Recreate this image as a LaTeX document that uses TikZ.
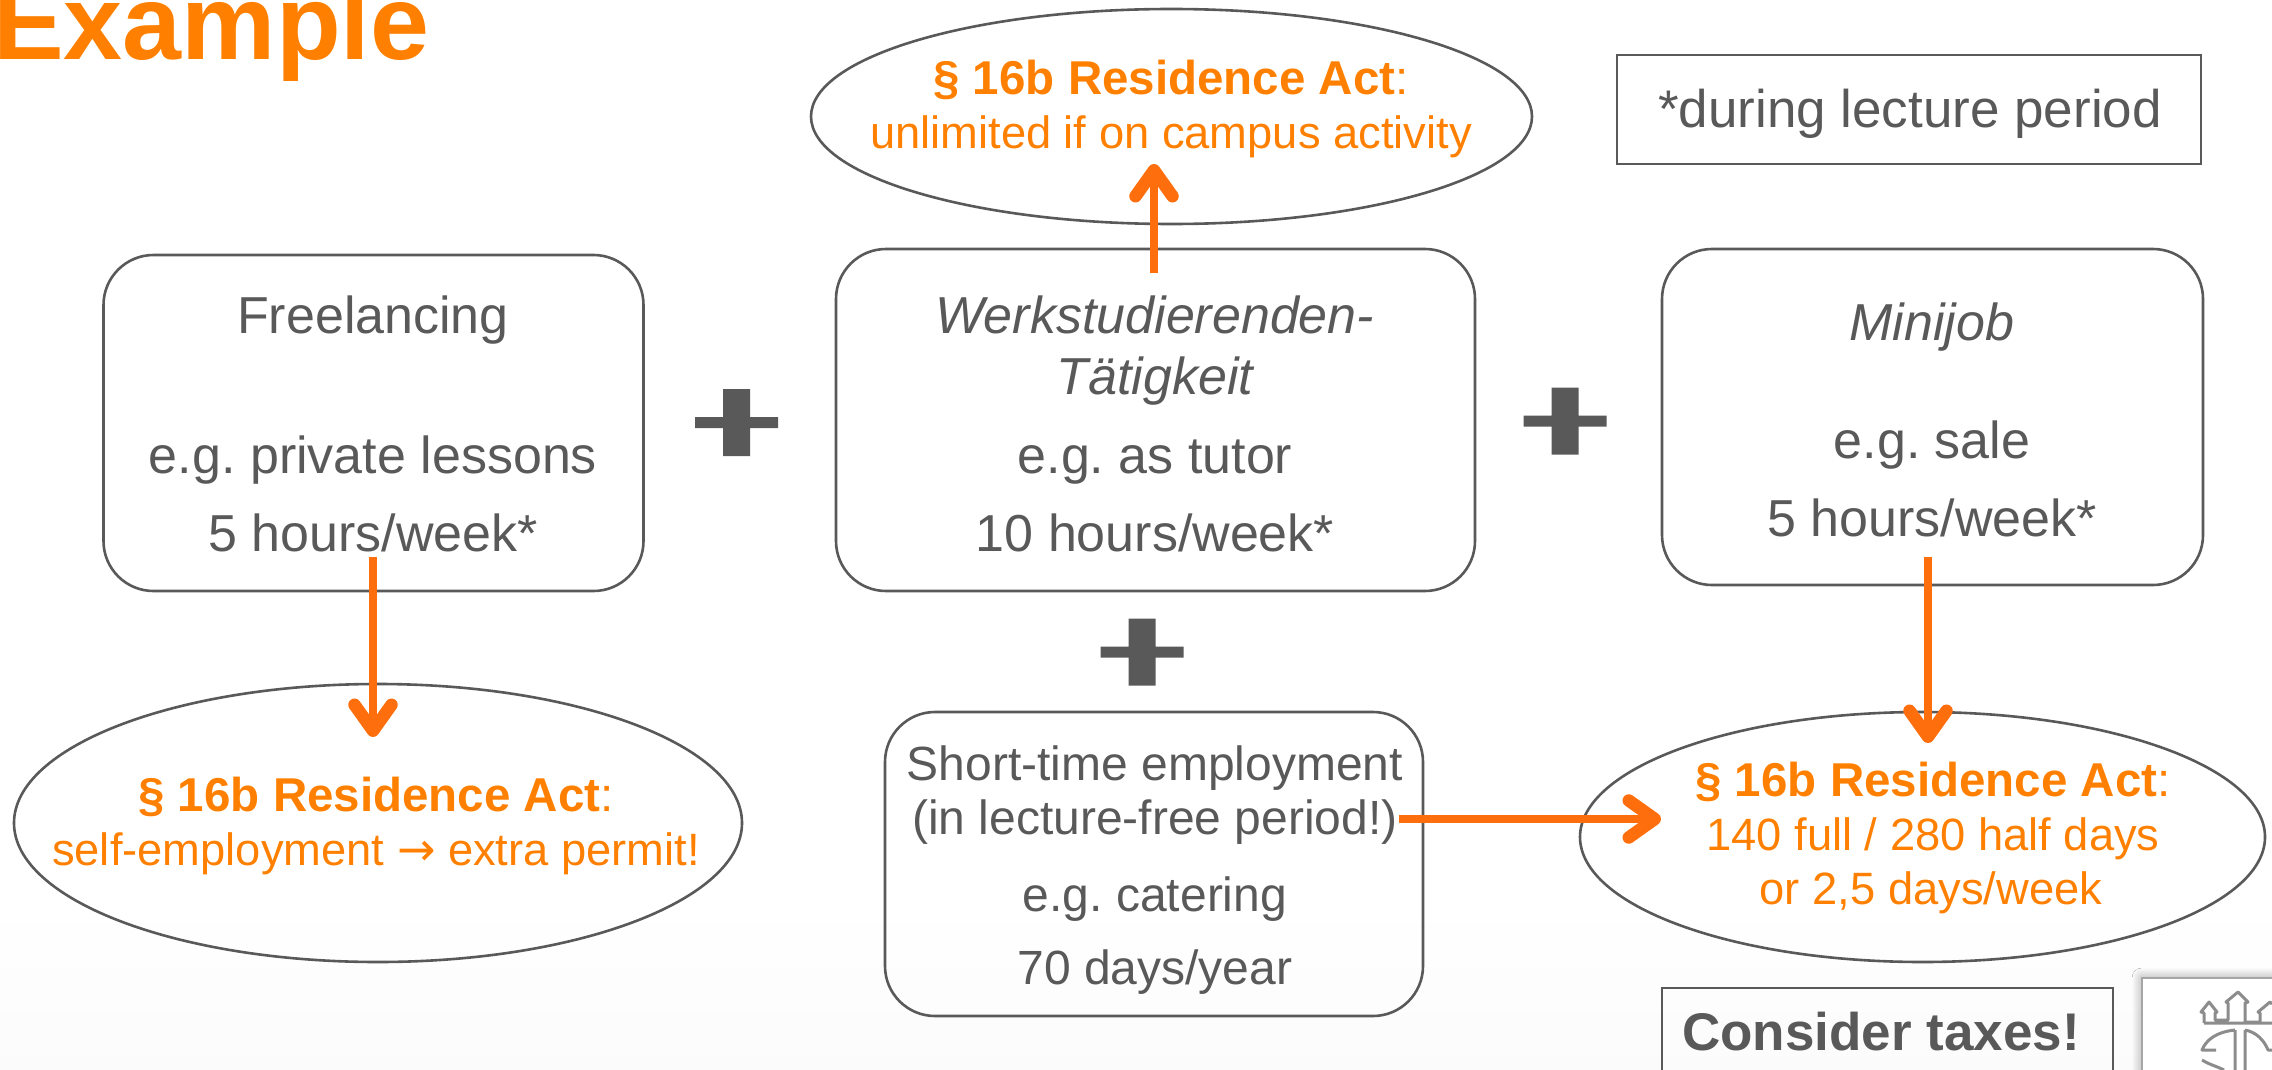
\documentclass[tikz,border=0pt]{standalone}
\usepackage{fontspec}
\setmainfont{Liberation Sans}
\frenchspacing
\usetikzlibrary{arrows.meta,shapes.geometric,shadows.blur}
\definecolor{txtgray}{HTML}{595959}
\definecolor{txtorange}{HTML}{FF8000}
\definecolor{arrorange}{HTML}{FF6E0D}
\newcommand{\bigit}{\fontsize{52}{56}\itshape\selectfont}
\newcommand{\lawsmall}{\fontsize{45.3}{56}\selectfont}
\tikzset{
  body/.style={text=txtgray,font=\fontsize{52}{56}\selectfont,inner sep=0pt,anchor=base},
  bodyshort/.style={body,font=\fontsize{48}{56}\selectfont},
  law/.style={text=txtorange,font=\fontsize{47.5}{56}\selectfont,inner sep=0pt,anchor=base},
  jobbox/.style={draw=txtgray,line width=2.6pt,rounded corners=50pt},
  lawell/.style={draw=txtgray,line width=2.6pt,ellipse,inner sep=0pt},
  notebox/.style={draw=txtgray,line width=2.2pt},
  push/.style={draw=arrorange,line width=8pt,-{Straight Barb[round,length=26pt,width=37pt,line width=12.5pt]}},
}
\begin{document}
\begin{tikzpicture}[x=1pt,y=-1pt]
\useasboundingbox (0,0) rectangle (2272,1070);

% Background
\shade[top color=white,bottom color=black!1.5] (0,900) rectangle (2272,1070);

% Title
\node[anchor=base west,text=txtorange,inner sep=0pt,font=\fontsize{106}{106}\bfseries\selectfont] (title) at (-7,60) {Example};

% Boxes
\node[jobbox,minimum width=540pt,minimum height=336pt] (free) at (373.5,423) {};
\node[jobbox,minimum width=639pt,minimum height=342pt] (werk) at (1155.5,420) {};
\node[jobbox,minimum width=541pt,minimum height=336pt] (mini) at (1932.5,417) {};
\node[jobbox,minimum width=538pt,minimum height=304pt] (short) at (1154,864) {};

% Ellipses
\node[lawell,minimum width=721pt,minimum height=215pt] (ellTop) at (1171.5,116.5) {};
\node[lawell,minimum width=728pt,minimum height=278pt] (ellLeft) at (378,823) {};
\node[lawell,minimum width=685pt,minimum height=250pt] (ellRight) at (1922.5,837) {};

% Notes
\node[notebox,minimum width=584pt,minimum height=109pt] (lecture) at (1909,109.5) {};
\draw[notebox] (1662,1080) |- (2113,988) -- (2113,1080);
\node[anchor=base,text=txtgray,inner sep=0pt,font=\fontsize{53}{56}\bfseries\selectfont] (taxes) at (1881,1050) {Consider taxes!};
\node[body,font=\fontsize{53}{56}\selectfont] (lectureText) at (1910,128) {*during lecture period};

% Box text
\node[body] (t1) at (373,333) {Freelancing};
\node[body] (t2) at (373,473) {e.g. private lessons};
\node[body] (t3) at (373,551) {5 hours/week*};
\node[body,font=\bigit] (t4) at (1155,333) {Werkstudierenden-};
\node[body,font=\bigit] (t5) at (1155,394) {Tätigkeit};
\node[body] (t6) at (1155,473) {e.g. as tutor};
\node[body] (t7) at (1155,551) {10 hours/week*};
\node[body,font=\bigit] (t8) at (1932,340) {Minijob};
\node[body] (t9) at (1932,458) {e.g. sale};
\node[body] (t10) at (1932,536) {5 hours/week*};
\node[bodyshort] (t11) at (1155,780) {Short-time employment};
\node[bodyshort] (t12) at (1155,834) {(in lecture-free period!)};
\node[bodyshort] (t13) at (1155,911) {e.g. catering};
\node[bodyshort] (t14) at (1155,984) {70 days/year};

% Law text
\node[law] (l1) at (1171,95) {\textbf{§ 16b Residence Act}:};
\node[law,font=\lawsmall] (l2) at (1171,148) {unlimited if on campus activity};
\node[law] (l3) at (376,811) {\textbf{§ 16b Residence Act}:};
\node[law,font=\lawsmall] (l4) at (376,865) {self-employment {\fontspec{DejaVu Sans}\fontsize{46}{46}\selectfont →} extra permit!};
\node[law] (l5) at (1933,796) {\textbf{§ 16b Residence Act}:};
\node[law,font=\lawsmall] (l6) at (1933,850) {140 full / 280 half days};
\node[law,font=\lawsmall] (l7) at (1931,904) {or 2,5 days/week};

% Plus signs
\foreach \px/\py in {736.5/422.5,1565/421,1142/652}
  \fill[txtgray] (\px-41.5,\py-5.5) rectangle (\px+41.5,\py+5.5)
    (\px-13.5,\py-33.5) rectangle (\px+13.5,\py+33.5);

% Arrows
\coordinate (freeOut) at (373,557);
\coordinate (freeIn) at (373,737);
\coordinate (werkOut) at (1154,273);
\coordinate (werkIn) at (1154,164);
\coordinate (miniOut) at (1928,557);
\coordinate (miniIn) at (1928,743);
\coordinate (shortOut) at (1399,819);
\coordinate (shortIn) at (1661,819);
\draw[push] (freeOut) -- (freeIn);
\draw[push] (werkOut) -- (werkIn);
\draw[push] (miniOut) -- (miniIn);
\draw[push] (shortOut) -- (shortIn);

% Logo
\node[draw=black!35,line width=2pt,fill=white,blur shadow={shadow blur steps=8,shadow xshift=0pt,shadow yshift=0pt,shadow blur radius=10pt},minimum width=200pt,minimum height=150pt,anchor=north west] (logo) at (2141,977) {};
\draw[black!45,line width=3pt,line join=round]
  (2204,1023) -- (2204,1013) -- (2201,1012) -- (2209,1002) -- (2217,1012) -- (2215,1013) -- (2215,1020)
    -- (2228,1020) -- (2228,1003) -- (2226,1002) -- (2238,992) -- (2248,1002) -- (2245,1003) -- (2245,1022)
    -- (2260,1022) -- (2260,1013) -- (2258,1012) -- (2270,1002) -- (2272,1004)
  (2204,1023) -- (2272,1023)
  (2235,1030) -- (2235,1070) (2245,1030) -- (2245,1070)
  (2235,1030) .. controls (2216,1032) and (2206,1040) .. (2202,1050) -- (2216,1050)
  (2202,1060) .. controls (2208,1064) and (2216,1066) .. (2224,1070)
  (2245,1030) .. controls (2256,1032) and (2264,1040) .. (2268,1050) -- (2272,1050);
\end{tikzpicture}
\end{document}
